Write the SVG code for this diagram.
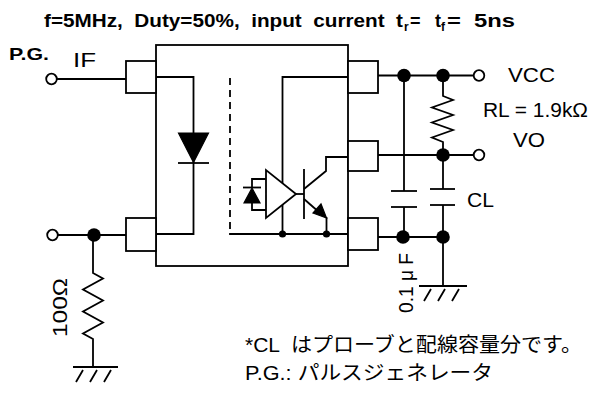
<svg xmlns="http://www.w3.org/2000/svg" width="592" height="398" viewBox="0 0 592 398">
<style>
.w{fill:none;stroke:#000;stroke-width:1.8}
.box{fill:#fff;stroke:#000;stroke-width:1.8}
.dot{fill:#000;stroke:none}
.term{fill:#fff;stroke:#000;stroke-width:1.8}
.fill{fill:#000;stroke:#000;stroke-width:1.2}
.t{font-family:"Liberation Sans",Arial,"Noto Sans CJK JP",sans-serif;font-size:20px;fill:#000}
.b{font-family:"Liberation Sans",Arial,sans-serif;font-weight:bold;fill:#000}
</style>
<rect width="592" height="398" fill="#fff"/>

<g id="title">
<text class="b" x="44" y="27" font-size="18" textLength="359" lengthAdjust="spacingAndGlyphs" xml:space="preserve">f=5MHz,  Duty=50%,  input  current  t</text>
<text class="b" x="404" y="31" font-size="12">r</text>
<text class="b" x="410" y="27" font-size="18">=</text>
<text class="b" x="435" y="27" font-size="18">t</text>
<text class="b" x="441" y="31" font-size="12">f</text>
<text class="b" x="447" y="27" font-size="18" textLength="68" lengthAdjust="spacingAndGlyphs" xml:space="preserve">=  5ns</text>
</g>

<g id="connectors">
<!-- input side -->
<line class="w" x1="57" y1="79" x2="126" y2="79"/>
<line class="w" x1="58" y1="235" x2="126" y2="235"/>
<polyline class="w" points="93,235 93,273 103,278.5 83,289.5 103,300.5 83,311.5 103,322.5 83,333.5 93,339 93,367"/>
<line class="w" x1="73" y1="367" x2="118" y2="367"/>
<path class="w" d="M83,370 l-7,12 M97,370 l-7,12 M111,370 l-7,12"/>
<!-- output side -->
<line class="w" x1="378" y1="75.5" x2="473.5" y2="75.5"/>
<line class="w" x1="378" y1="155" x2="473.5" y2="155"/>
<line class="w" x1="378" y1="237" x2="443" y2="237"/>
<polyline class="w" points="443,75.5 443,96 453,100 432,107.5 453,115 432,122.5 453,130 432,137.5 443,142 443,155"/>
<line class="w" x1="404" y1="75.5" x2="404" y2="191"/>
<line class="w" x1="391" y1="191" x2="417" y2="191"/>
<line class="w" x1="391" y1="207" x2="417" y2="207"/>
<line class="w" x1="404" y1="207" x2="404" y2="237"/>
<line class="w" x1="443" y1="155" x2="443" y2="189"/>
<line class="w" x1="430" y1="189" x2="455" y2="189"/>
<line class="w" x1="430" y1="205" x2="455" y2="205"/>
<line class="w" x1="443" y1="205" x2="443" y2="286"/>
<line class="w" x1="419" y1="286" x2="467" y2="286"/>
<path class="w" d="M431,289 l-7,12 M445,289 l-7,12 M459,289 l-7,12"/>
</g>

<g id="package">
<rect class="w" x="156" y="45" width="192" height="221"/>
<!-- LED -->
<polyline class="w" points="156,77 193.5,77 193.5,234 156,234"/>
<polygon class="fill" points="178.5,133 208.5,133 193.5,162.5"/>
<line class="w" x1="178" y1="163" x2="209" y2="163"/>
<!-- shield -->
<line class="w" x1="230" y1="78" x2="230" y2="234" stroke-dasharray="7,5"/>
<line class="w" x1="229.1" y1="234" x2="348" y2="234"/>
<!-- supply rail -->
<polyline class="w" points="348,77 282.5,77 282.5,234"/>
<!-- photodiode -->
<polyline class="w" points="266,179 252,179 252,187"/>
<polyline class="w" points="252,203 252,210 266,210"/>
<polygon class="fill" points="244,203 260,203 252,188"/>
<line class="w" x1="243" y1="187.5" x2="261" y2="187.5"/>
<!-- amplifier -->
<polygon class="box" points="266,170 266,218 296,194"/>
<line class="w" x1="296" y1="194" x2="304" y2="194"/>
<!-- transistor -->
<line class="w" x1="304" y1="169" x2="304" y2="219"/>
<polyline class="w" points="304,189 326,171 326,157 348,157"/>
<line class="w" x1="304" y1="199" x2="320" y2="213"/>
<polygon class="fill" points="326.5,218 313,213 321,204"/>
<line class="w" x1="326.5" y1="217" x2="326.5" y2="234"/>
<circle class="dot" cx="282.5" cy="234" r="3.6"/>
<circle class="dot" cx="326.5" cy="234" r="3.6"/>
</g>

<g id="pins">
<rect class="box" x="126" y="61" width="30" height="32"/>
<rect class="box" x="126" y="218" width="30" height="33"/>
<rect class="box" x="348" y="61" width="30" height="32"/>
<rect class="box" x="348" y="141" width="30" height="30"/>
<rect class="box" x="348" y="218" width="30" height="32"/>
</g>

<g id="nodes">
<circle class="term" cx="51.5" cy="79" r="5.3"/>
<circle class="term" cx="52.5" cy="235" r="5.3"/>
<circle class="term" cx="479" cy="75.5" r="5.3"/>
<circle class="term" cx="479" cy="155" r="5.3"/>
<circle class="dot" cx="94" cy="235" r="6.8"/>
<circle class="dot" cx="404" cy="75.5" r="6.8"/>
<circle class="dot" cx="443" cy="75.5" r="6.8"/>
<circle class="dot" cx="443" cy="155" r="6.8"/>
<circle class="dot" cx="403" cy="237" r="6.8"/>
<circle class="dot" cx="443" cy="237" r="6.8"/>
</g>

<g id="labels">
<text class="b" x="9" y="60" font-size="17" textLength="40" lengthAdjust="spacingAndGlyphs">P.G.</text>
<text class="t" x="73" y="67" font-family="Liberation Serif" textLength="23" lengthAdjust="spacingAndGlyphs">IF</text>
<text class="t" x="508" y="82" textLength="47" lengthAdjust="spacingAndGlyphs">VCC</text>
<text class="t" x="483" y="117" textLength="105" lengthAdjust="spacingAndGlyphs">RL = 1.9kΩ</text>
<text class="t" x="513" y="147" textLength="32" lengthAdjust="spacingAndGlyphs">VO</text>
<text class="t" x="467" y="207" textLength="27" lengthAdjust="spacingAndGlyphs">CL</text>
<text class="t" transform="translate(67,307.5) rotate(-90)" text-anchor="middle" font-size="23" textLength="59" lengthAdjust="spacingAndGlyphs">100Ω</text>
<text class="t" transform="translate(413,283) rotate(-90)" text-anchor="middle" font-size="16" textLength="60" lengthAdjust="spacingAndGlyphs">0.1 μ F</text>
<text class="t" x="245" y="352" textLength="337" lengthAdjust="spacingAndGlyphs" xml:space="preserve">*CL  はプローブと配線容量分です。</text>
<text class="t" x="245" y="380" textLength="248" lengthAdjust="spacingAndGlyphs">P.G.: パルスジェネレータ</text>
</g>
</svg>
